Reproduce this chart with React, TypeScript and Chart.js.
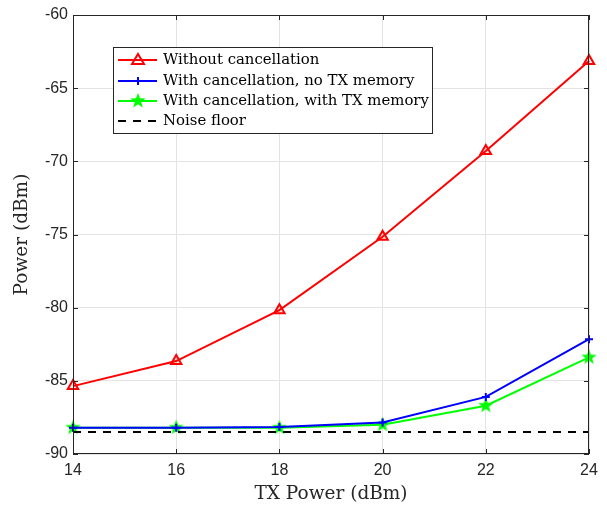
import React, { useEffect, useRef } from "react";
import { Chart, registerables } from "chart.js";

Chart.register(...registerables);

const txPower = [14, 16, 18, 20, 22, 24];
const withoutCancel = [-85.36, -83.65, -80.17, -75.15, -69.3, -63.14];
const cancelNoMem = [-88.2, -88.2, -88.15, -87.85, -86.1, -82.15];
const cancelWithMem = [-88.2, -88.2, -88.2, -88.0, -86.7, -83.4];
const noiseFloor = [-88.5, -88.5, -88.5, -88.5, -88.5, -88.5];
const seriesLabels = [
  "Without cancellation",
  "With cancellation, no TX memory",
  "With cancellation, with TX memory",
  "Noise floor",
];
const yTicks = [-90, -85, -80, -75, -70, -65, -60];
const xTicks = [14, 16, 18, 20, 22, 24];

function starCanvas(color: string, r: number) {
  const c = document.createElement("canvas");
  const s = Math.ceil(2 * r + 2);
  c.width = s;
  c.height = s;
  const g = c.getContext("2d")!;
  g.fillStyle = color;
  g.beginPath();
  for (let i = 0; i < 10; i++) {
    const rad = i % 2 === 0 ? r : r * 0.42;
    const a = -Math.PI / 2 + (i * Math.PI) / 5;
    const x = s / 2 + rad * Math.cos(a);
    const y = s / 2 + rad * Math.sin(a);
    if (i === 0) g.moveTo(x, y);
    else g.lineTo(x, y);
  }
  g.closePath();
  g.fill();
  return c;
}

export default function App() {
  const ref = useRef<HTMLCanvasElement>(null);
  useEffect(() => {
    const star = starCanvas("#00ff00", 8);
    const serif = "'DejaVu Serif', 'Liberation Serif', serif";
    const sans = "'Liberation Sans', Arial, sans-serif";

    const frame = {
      id: "frame",
      afterDraw(chart: any) {
        const { ctx, chartArea: a, scales } = chart;
        ctx.save();
        ctx.strokeStyle = "#262626";
        ctx.lineWidth = 1;
        ctx.strokeRect(a.left + 0.5, a.top + 0.5, a.right - a.left - 1, a.bottom - a.top - 1);
        ctx.beginPath();
        for (const v of xTicks) {
          const x = Math.round(scales.x.getPixelForValue(v)) + 0.5;
          ctx.moveTo(x, a.bottom);
          ctx.lineTo(x, a.bottom - 5);
          ctx.moveTo(x, a.top);
          ctx.lineTo(x, a.top + 5);
        }
        for (const v of yTicks) {
          const y = Math.round(scales.y.getPixelForValue(v)) + 0.5;
          ctx.moveTo(a.left, y);
          ctx.lineTo(a.left + 5, y);
          ctx.moveTo(a.right, y);
          ctx.lineTo(a.right - 5, y);
        }
        ctx.stroke();

        // legend
        const lx = 113, ly = 47, lw = 319, lh = 86;
        ctx.fillStyle = "#ffffff";
        ctx.fillRect(lx, ly, lw, lh);
        ctx.strokeStyle = "#262626";
        ctx.lineWidth = 1;
        ctx.strokeRect(lx + 0.5, ly + 0.5, lw, lh);
        const colors = ["#ff0000", "#0000ff", "#00ff00", "#000000"];
        const rowY = [60, 81, 101, 121];
        for (let i = 0; i < 4; i++) {
          const y = rowY[i];
          ctx.strokeStyle = colors[i];
          ctx.lineWidth = 2;
          ctx.setLineDash(i === 3 ? [8, 7] : []);
          ctx.beginPath();
          ctx.moveTo(118, y);
          ctx.lineTo(157, y);
          ctx.stroke();
          ctx.setLineDash([]);
          const cx = 138;
          if (i === 0) {
            ctx.beginPath();
            ctx.moveTo(cx, y - 6);
            ctx.lineTo(cx + 6, y + 4);
            ctx.lineTo(cx - 6, y + 4);
            ctx.closePath();
            ctx.stroke();
          } else if (i === 1) {
            ctx.beginPath();
            ctx.moveTo(cx, y - 4);
            ctx.lineTo(cx, y + 4);
            ctx.moveTo(cx - 4, y);
            ctx.lineTo(cx + 4, y);
            ctx.stroke();
          } else if (i === 2) {
            ctx.drawImage(star, cx - star.width / 2, y - star.height / 2);
          }
          ctx.fillStyle = "#000000";
          ctx.font = `14.9px ${serif}`;
          ctx.textBaseline = "middle";
          ctx.textAlign = "left";
          ctx.fillText(seriesLabels[i], 163, y);
        }
        ctx.restore();
      },
    };

    const mk = (arr: number[]) => arr.map((y, i) => ({ x: txPower[i], y }));

    const chart = new Chart(ref.current!, {
      type: "line",
      data: {
        datasets: [
          {
            label: seriesLabels[3],
            data: mk(noiseFloor),
            borderColor: "#000000",
            borderWidth: 2,
            borderDash: [8, 7],
            pointRadius: 0,
          },
          {
            label: seriesLabels[1],
            data: mk(cancelNoMem),
            borderColor: "#0000ff",
            borderWidth: 2,
            pointStyle: "cross",
            pointRadius: 4,
            pointBorderWidth: 2,
            pointBorderColor: "#0000ff",
            clip: false as any,
          },
          {
            label: seriesLabels[2],
            data: mk(cancelWithMem),
            borderColor: "#00ff00",
            borderWidth: 2,
            pointStyle: star as any,
            pointRadius: 8,
            clip: false as any,
          },
          {
            label: seriesLabels[0],
            data: mk(withoutCancel),
            borderColor: "#ff0000",
            borderWidth: 2,
            pointStyle: "triangle",
            pointRadius: 6,
            pointBorderWidth: 2,
            pointBorderColor: "#ff0000",
            pointBackgroundColor: "rgba(255,0,0,0.08)",
            clip: false as any,
          },
        ],
      },
      options: {
        responsive: false,
        animation: false,
        layout: { padding: { left: 0, right: 18, top: 15, bottom: 0 } },
        plugins: { legend: { display: false }, tooltip: { enabled: false } },
        scales: {
          x: {
            type: "linear",
            min: 14,
            max: 24,
            afterBuildTicks: (s: any) => {
              s.ticks = xTicks.map((v) => ({ value: v }));
            },
            afterFit: (s: any) => {
              s.height = 51;
            },
            grid: { color: "#e3e3e3", drawTicks: false },
            border: { display: false },
            ticks: { color: "#262626", font: { family: sans, size: 16 }, padding: 7 },
            title: {
              display: true,
              text: "TX Power (dBm)",
              color: "#262626",
              font: { family: serif, size: 18.5, lineHeight: 1.1 },
              padding: { top: 0, bottom: 1 },
            },
          },
          y: {
            min: -90,
            max: -60,
            afterBuildTicks: (s: any) => {
              s.ticks = yTicks.map((v) => ({ value: v }));
            },
            afterFit: (s: any) => {
              s.width = 73;
            },
            grid: { color: "#e3e3e3", drawTicks: false },
            border: { display: false },
            ticks: { color: "#262626", font: { family: sans, size: 16 }, padding: 5 },
            title: {
              display: true,
              text: "Power (dBm)",
              color: "#262626",
              font: { family: serif, size: 18.5, lineHeight: 1.1 },
              padding: { top: 12, bottom: 0 },
            },
          },
        },
      },
      plugins: [frame],
    });
    return () => chart.destroy();
  }, []);

  return (
    <div style={{ position: "absolute", left: 0, top: 0, width: 607, height: 505, background: "#fff" }}>
      <canvas ref={ref} width={607} height={505} />
    </div>
  );
}
